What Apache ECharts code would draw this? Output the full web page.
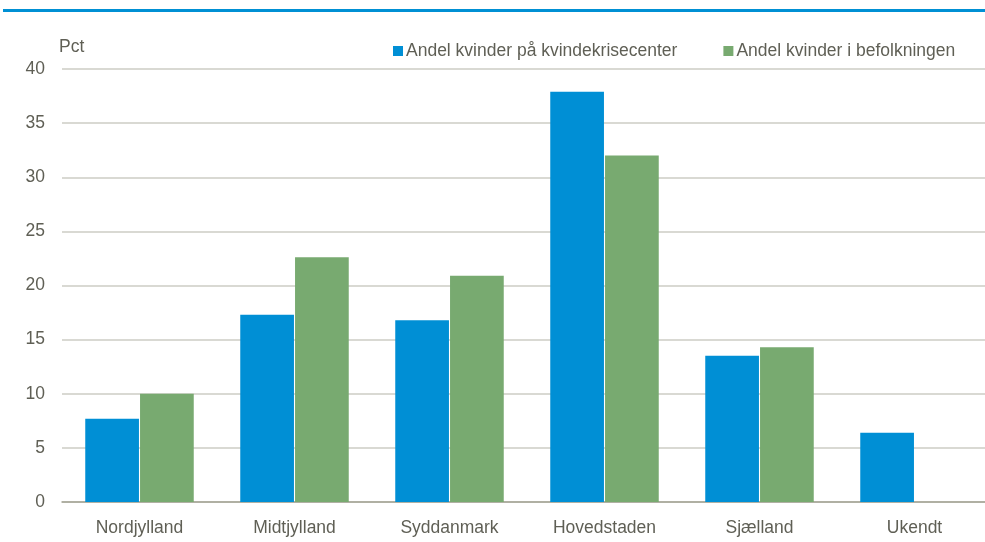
<!DOCTYPE html>
<html>
<head>
<meta charset="utf-8">
<script src="https://cdn.jsdelivr.net/npm/echarts@6/dist/echarts.min.js"></script>
<style>
html, body { margin: 0; padding: 0; background: #fff; }
#chart { width: 985px; height: 542px; }
</style>
</head>
<body>
<div id="chart"></div>
<script>
// regioner
var categories = ["Nordjylland", "Midtjylland", "Syddanmark", "Hovedstaden", "Sjælland", "Ukendt"];
var seriesNames = ["Andel kvinder på kvindekrisecenter", "Andel kvinder i befolkningen"];
var krisecenter = [7.7, 17.3, 16.8, 37.9, 13.5, 6.4];
var befolkning = [10.0, 22.6, 20.9, 32.0, 14.3, null];
var yTicks = [0, 5, 10, 15, 20, 25, 30, 35, 40];

var blue = "#008fd5";
var green = "#78aa70";
var textColor = "#5f5f55";
var font = "'Liberation Sans', Arial, sans-serif";
var fs = 17.5;

var chart = echarts.init(document.getElementById("chart"));
var option = {
    animation: false,
    textStyle: { fontFamily: font },
    graphic: [{
        type: "rect",
        shape: { x: 3, y: 9, width: 982, height: 3 },
        style: { fill: "#0090d4" }
    }],
    legend: {
        left: 388,
        top: 37,
        itemWidth: 10,
        itemHeight: 10,
        itemGap: 46,
        icon: "rect",
        textStyle: { color: textColor, fontSize: fs, fontFamily: font, padding: [0, 0, 0, -2] },
        data: seriesNames
    },
    grid: { left: 62, width: 930, top: 69, bottom: 40, outerBoundsMode: "none" },
    xAxis: {
        type: "category",
        data: categories,
        axisTick: { show: false },
        axisLine: { lineStyle: { color: "#a3a394", width: 1.5 } },
        axisLabel: { color: textColor, fontSize: fs, fontFamily: font, margin: 17 }
    },
    yAxis: {
        type: "value",
        min: yTicks[0],
        max: yTicks[yTicks.length - 1],
        interval: 5,
        name: "Pct",
        nameGap: 13,
        nameTextStyle: { color: textColor, fontSize: fs, fontFamily: font, align: "left", padding: [0, 0, 0, -3] },
        axisLine: { show: false },
        axisTick: { show: false },
        axisLabel: { color: textColor, fontSize: fs, fontFamily: font, margin: 17 },
        splitLine: { lineStyle: { color: "#cdcdc5", width: 1.5 } }
    },
    series: [{
        name: seriesNames[0],
        type: "bar",
        data: krisecenter,
        barGap: "2%",
        barCategoryGap: "30%",
        itemStyle: { color: blue }
    }, {
        name: seriesNames[1],
        type: "bar",
        data: befolkning,
        itemStyle: { color: green }
    }]
};
chart.setOption(option);
</script>
</body>
</html>
